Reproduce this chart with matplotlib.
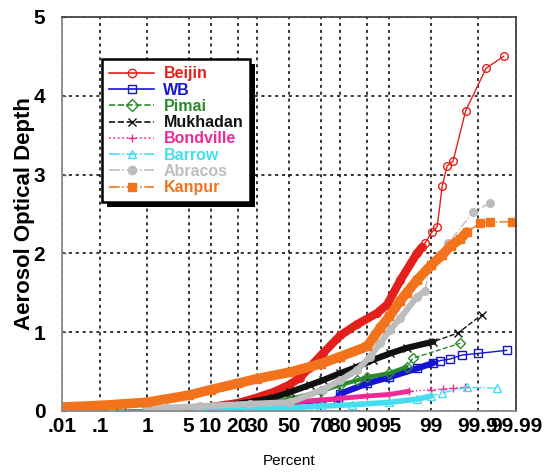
import numpy as np
import matplotlib
matplotlib.use("Agg")
import matplotlib.pyplot as plt
from matplotlib.lines import Line2D
from matplotlib.patches import Rectangle
from matplotlib.transforms import IdentityTransform
from statistics import NormalDist

# --- data (percent, AOD) ---
names = ["Beijin", "WB", "Pimai", "Mukhadan", "Bondville", "Barrow", "Abracos", "Kanpur"]

beijin_pct = [10, 20, 30, 40, 50, 57, 63, 71, 80, 86.8, 92.5, 94.6, 96.6, 98.2,
              98.54, 98.71, 99.04, 99.24, 99.40, 99.52, 99.64, 99.81, 99.938, 99.978]
beijin_aod = [0.05, 0.1, 0.17, 0.24, 0.33, 0.42, 0.55, 0.73, 0.96, 1.1, 1.24, 1.35, 1.66, 2.0,
              2.08, 2.13, 2.27, 2.34, 2.86, 3.11, 3.17, 3.81, 4.35, 4.5]

wb_pct = [0.03, 0.1, 0.3, 1, 5, 20, 50, 70, 79, 80, 90, 95, 98.2, 99.1, 99.34, 99.59, 99.77, 99.9, 99.982]
wb_aod = [0.0, 0.005, 0.01, 0.015, 0.03, 0.05, 0.08, 0.11, 0.14, 0.22, 0.35, 0.43, 0.54, 0.61, 0.64, 0.66, 0.71, 0.73, 0.77]

pimai_pct = [10, 30, 50, 70, 80, 86.8, 90, 95, 97.3, 97.9, 99.75]
pimai_aod = [0.03, 0.08, 0.15, 0.25, 0.33, 0.39, 0.43, 0.48, 0.56, 0.67, 0.86]

mukhadan_pct = [5, 10, 20, 30, 40, 50.6, 63.4, 71, 80, 86.8, 91.6, 95.1, 97.3, 99.1, 99.72, 99.92]
mukhadan_aod = [0.03, 0.05, 0.09, 0.13, 0.17, 0.24, 0.33, 0.39, 0.48, 0.56, 0.65, 0.73, 0.8, 0.88, 0.99, 1.22]

bondville_pct = [5, 20, 46, 57, 70, 80, 90, 95, 97.5, 99.0, 99.42, 99.64, 99.8]
bondville_aod = [0.02, 0.05, 0.09, 0.12, 0.14, 0.16, 0.19, 0.21, 0.25, 0.27, 0.28, 0.29, 0.3]

barrow_pct = [0.01, 0.03, 0.1, 1, 10, 30, 50, 70, 85, 95, 98.2, 99.0, 99.4, 99.82, 99.968]
barrow_aod = [0.0, 0.0, 0.005, 0.01, 0.02, 0.03, 0.04, 0.06, 0.08, 0.11, 0.15, 0.19, 0.23, 0.3, 0.29]

abracos_pct = [1, 2.3, 7.2, 26, 50.6, 71, 80, 86.8, 90.8, 93.2, 95.1, 96.6, 98.2, 98.7, 98.96, 99.55, 99.87, 99.95]
abracos_aod = [0.02, 0.04, 0.06, 0.09, 0.11, 0.27, 0.39, 0.52, 0.69, 0.86, 1.03, 1.18, 1.45, 1.52, 1.83, 2.13, 2.52, 2.64]

kanpur_pct = [0.01, 0.1, 1, 5, 10, 20, 30, 50, 70, 80, 90, 93.2, 95, 96.6, 97.3, 98.2, 99.0,
              99.4, 99.6, 99.75, 99.82, 99.91, 99.95, 99.987]
kanpur_aod = [0.05, 0.07, 0.11, 0.2, 0.27, 0.35, 0.41, 0.49, 0.6, 0.69, 0.82, 1.05, 1.2, 1.4, 1.5, 1.66, 1.85,
              1.98, 2.1, 2.18, 2.27, 2.38, 2.4, 2.4]

xticks = [0.01, 0.1, 1, 5, 10, 20, 30, 50, 70, 80, 90, 95, 99, 99.9, 99.99]
xticklabels = [".01", ".1", "1", "5", "10", "20", "30", "50", "70", "80", "90", "95", "99", "99.9", "99.99"]

# --- styles ---
styles = {
    "Beijin":    dict(c="#e3201b", ls="-",  m="o", fill=False, band=(10, 98.7), blw=6.0),
    "WB":        dict(c="#1414d2", ls="-",  m="s", fill=False, band=(79, 99.1), blw=4.5),
    "Pimai":     dict(c="#2a8a2a", ls="--", m="D", fill=False, band=(10, 97.3), blw=3.0),
    "Mukhadan":  dict(c="#111111", ls="--", m="x", fill=False, band=(5, 99.1),  blw=4.5),
    "Bondville": dict(c="#ee2a96", ls=":",  m="+", fill=False, band=(46, 98.5), blw=3.5),
    "Barrow":    dict(c="#45ddf0", ls="-.", m="^", fill=False, band=(1, 99.0),  blw=4.0),
    "Abracos":   dict(c="#bdbdbd", ls="-.", m="o", fill=True,  band=(1, 98.7),  blw=4.5),
    "Kanpur":    dict(c="#f2731c", ls="-.", m="s", fill=True,  band=(0.01, 99.9), blw=7.0),
}

series = [
    ("Beijin", beijin_pct, beijin_aod),
    ("WB", wb_pct, wb_aod),
    ("Pimai", pimai_pct, pimai_aod),
    ("Mukhadan", mukhadan_pct, mukhadan_aod),
    ("Bondville", bondville_pct, bondville_aod),
    ("Barrow", barrow_pct, barrow_aod),
    ("Abracos", abracos_pct, abracos_aod),
    ("Kanpur", kanpur_pct, kanpur_aod),
]

# normal probability scale
_nd = NormalDist()
_ppf = np.vectorize(_nd.inv_cdf, otypes=[float])
_cdf = np.vectorize(_nd.cdf, otypes=[float])


def fwd(p):
    p = np.clip(np.asarray(p, float), 1e-7, 100 - 1e-7)
    return _ppf(p / 100.0)


def inv(z):
    return _cdf(np.asarray(z, float)) * 100.0


plt.rcParams["font.family"] = ["Liberation Sans", "DejaVu Sans"]

fig = plt.figure(figsize=(5.46, 4.72), dpi=100)
ax = fig.add_axes([62 / 546, 1 - 411 / 472, 454 / 546, 394 / 472])
ax.set_xscale("function", functions=(fwd, inv))

for name, pct, aod in series:
    st = styles[name]
    pct = np.array(pct)
    aod = np.array(aod)
    lo, hi = st["band"]
    dense = (pct >= lo) & (pct <= hi)
    ax.plot(pct[dense], aod[dense], color=st["c"], lw=st["blw"],
            solid_capstyle="round", solid_joinstyle="round")
    ax.plot(pct, aod, color=st["c"], ls=st["ls"], lw=1.0, marker=st["m"], ms=5.5,
            mfc=st["c"] if st["fill"] else "none", mec=st["c"], mew=1.0)

ax.set_xlim(0.01, 99.99)
ax.set_ylim(0, 5)
ax.set_xticks(xticks)
ax.set_xticklabels(xticklabels)
ax.xaxis.set_minor_locator(matplotlib.ticker.NullLocator())
ax.set_yticks([0, 1, 2, 3, 4, 5])

ax.grid(True, color="black", ls=(0, (2.0, 2.5)), lw=1.1)
ax.tick_params(axis="both", direction="in", length=3, width=1, color="#666666")
ax.tick_params(axis="y", pad=12, labelsize=15)
ax.tick_params(axis="x", pad=4, labelsize=15, length=0)
for lab in ax.get_xticklabels() + ax.get_yticklabels():
    lab.set_fontweight("bold")

for side in ["top", "right"]:
    ax.spines[side].set_color("#444444")
    ax.spines[side].set_linewidth(1.3)
for side in ["left", "bottom"]:
    ax.spines[side].set_color("#8a8a8a")
    ax.spines[side].set_linewidth(1.3)

ax.set_ylabel("Aerosol Optical Depth", fontsize=16, fontweight="bold")
ax.yaxis.set_label_coords(-0.06, 0.5)
ax.set_xlabel("Percent", fontsize=11)
ax.xaxis.set_label_coords(0.5, -0.108)

handles = []
for name in names:
    st = styles[name]
    handles.append(Line2D([], [], color=st["c"], ls=st["ls"], lw=1.2, marker=st["m"], ms=6,
                          mfc=st["c"] if st["fill"] else "none", mec=st["c"]))
leg = ax.legend(handles, names, loc="upper left", bbox_to_anchor=(0.088, 0.893),
                borderaxespad=0, fancybox=False, edgecolor="black", framealpha=1,
                prop={"weight": "bold", "size": 11.5}, handlelength=2.8,
                labelspacing=0.08, handletextpad=0.6, borderpad=0.45)
leg.get_frame().set_linewidth(1.8)
for t, name in zip(leg.get_texts(), names):
    t.set_color(styles[name]["c"])

# heavy black drop shadow behind the legend box
fig.canvas.draw()
bb = leg.get_window_extent()
ax.add_patch(Rectangle((bb.x0 + 5, bb.y0 - 5), bb.width, bb.height, transform=IdentityTransform(),
                       facecolor="black", edgecolor="none", clip_on=False, zorder=4.9))

fig.savefig("out.png", dpi=100)
